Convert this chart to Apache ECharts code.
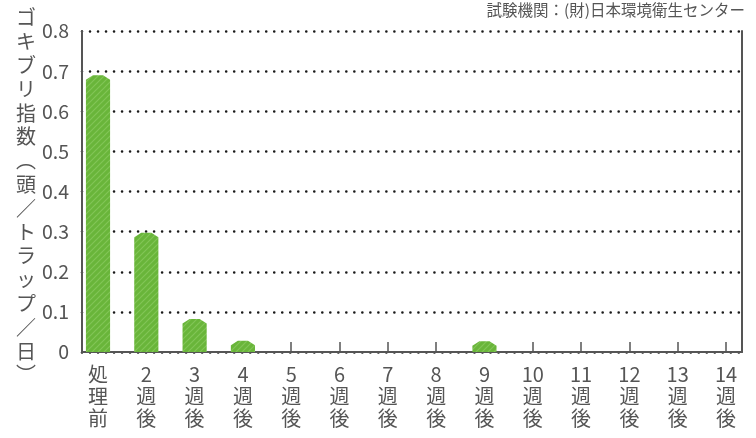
<!DOCTYPE html>
<html><head><meta charset="utf-8">
<script src="https://cdn.jsdelivr.net/npm/echarts@6/dist/echarts.min.js"></script>
<style>html,body{margin:0;padding:0;background:#fff}#c{width:756px;height:438px}</style>
</head><body><div id="c"></div>
<script>
const categories = ['処理前','2週後','3週後','4週後','5週後','6週後','7週後','8週後','9週後','10週後','11週後','12週後','13週後','14週後'];
const values = [0.69, 0.297, 0.082, 0.028, 0, 0, 0, 0, 0.027, 0, 0, 0, 0, 0];
const yTicks = [0, 0.1, 0.2, 0.3, 0.4, 0.5, 0.6, 0.7, 0.8];
const yTitle = 'ゴキブリ指数︵頭／トラップ／日︶';
const sourceText = '試験機関：(財)日本環境衛生センター';

const font = '"Noto Sans CJK JP", "Noto Sans", sans-serif';
const txt = '#555';

// hatch pattern
const pc = document.createElement('canvas');
pc.width = 6; pc.height = 6;
const g = pc.getContext('2d');
g.fillStyle = '#69b53a'; g.fillRect(0,0,6,6);
g.strokeStyle = '#82c557'; g.lineWidth = 1.2;
g.beginPath(); g.moveTo(0,6); g.lineTo(6,0); g.moveTo(-1,1); g.lineTo(1,-1); g.moveTo(5,7); g.lineTo(7,5); g.stroke();

function vLabel(s){
  const m = s.match(/^(\d+)(.*)$/);
  if (m) return [m[1]].concat(m[2].split('')).join('\n');
  return s.split('').join('\n');
}

const chart = echarts.init(document.getElementById('c'));
chart.setOption({
  animation: false,
  grid: [
    {left: 73.85, right: 5.85, top: 31, bottom: 86},
    {left: 82, right: 14, top: 31, bottom: 86}
  ],
  xAxis: [
    {type: 'category', gridIndex: 0, data: categories, boundaryGap: true,
     axisLine: {show: false},
     axisTick: {show: true, alignWithLabel: true, inside: true, length: 10, lineStyle: {color: txt, width: 1.5}},
     axisLabel: {interval: 0, margin: 11, color: txt, fontFamily: font, fontSize: 20, lineHeight: 22,
                 formatter: vLabel},
     splitLine: {show: false}},
    {type: 'value', gridIndex: 1, min: 0, max: 1, show: true,
     axisLine: {show: true, onZero: false, lineStyle: {color: txt, width: 2}},
     axisTick: {show: false}, axisLabel: {show: false}, splitLine: {show: false}}
  ],
  yAxis: [
    {type: 'value', gridIndex: 0, min: 0, max: 0.8, interval: 0.1, show: false},
    {type: 'value', gridIndex: 1, min: 0, max: 0.8, interval: 0.1, position: 'left',
     axisLine: {show: true, lineStyle: {color: txt, width: 2}},
     axisTick: {show: false},
     axisLabel: {margin: 13, color: txt, fontFamily: font, fontSize: 19.5,
       formatter: v => { const r = Math.round(v*10)/10; const i = yTicks.indexOf(r); return i >= 0 ? String(yTicks[i]) : ''; }},
     splitLine: {show: true, lineStyle: {color: '#1a1a1a', width: 2.6, type: [0.01, 8], cap: 'round'}}},
    {type: 'value', gridIndex: 1, min: 0, max: 0.8, interval: 0.1, position: 'right',
     axisLine: {show: true, lineStyle: {color: txt, width: 2}},
     axisTick: {show: false}, axisLabel: {show: false}, splitLine: {show: false}}
  ],
  graphic: [
    {type: 'text', left: 16, top: 6, style: {text: yTitle.split('').join('\n'), fill: txt, font: '20px ' + font, lineHeight: 23.8, align: 'center'}},
    {type: 'text', right: 11, top: 2, style: {text: sourceText, fill: txt, font: '15.5px ' + font}}
  ],
  series: [{
    type: 'custom', xAxisIndex: 0, yAxisIndex: 0,
    data: values.map((v, i) => [i, v]),
    renderItem: function (params, api) {
      const v = api.value(1);
      if (!v) return null;
      const top = api.coord([api.value(0), v]);
      const base = api.coord([api.value(0), 0]);
      const w = api.size([1, 0])[0] * 0.5;
      const x0 = top[0] - w / 2, x1 = top[0] + w / 2;
      const yt = top[1], ys = yt + 4.5, yb = base[1];
      const b = 7;
      return {type: 'polygon', shape: {points: [[x0, yb], [x0, ys], [x0 + b, yt], [x1 - b, yt], [x1, ys], [x1, yb]]},
              style: {fill: {image: pc, repeat: 'repeat'}}};
    }
  }]
});
</script></body></html>
